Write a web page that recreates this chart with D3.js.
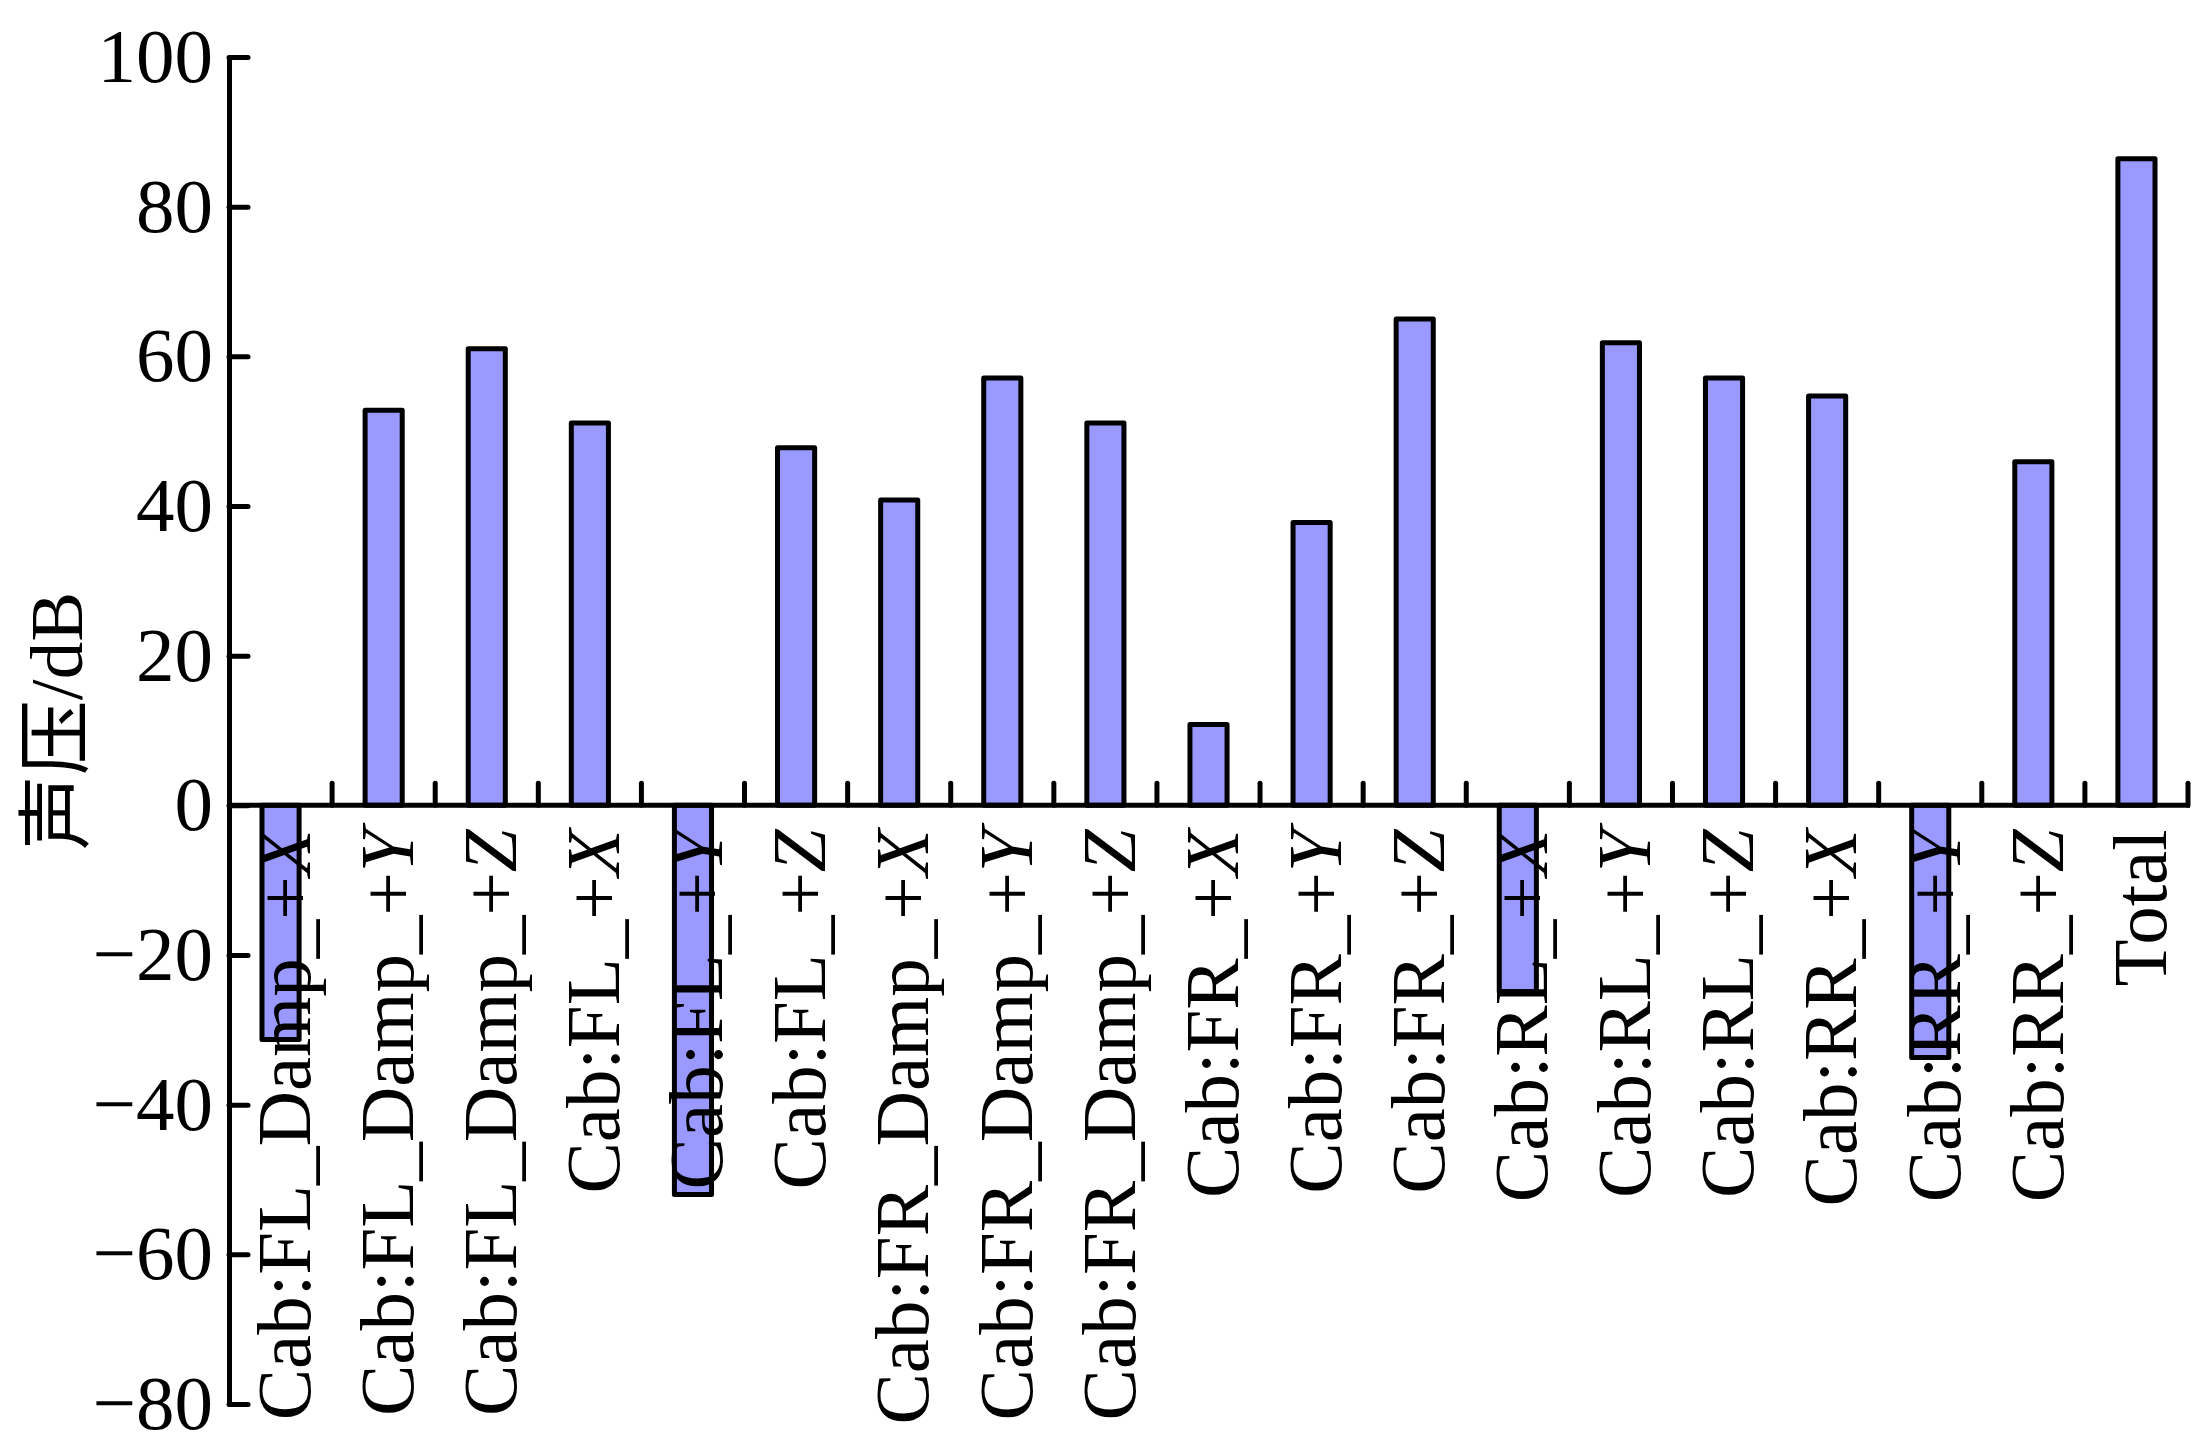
<!DOCTYPE html>
<html>
<head>
<meta charset="utf-8">
<script src="https://cdn.jsdelivr.net/npm/d3@7"></script>
<style>
  body { margin: 0; background: #fff; }
  text { font-family: "Liberation Serif", "Times New Roman", serif; fill: #000; }
</style>
</head>
<body>
<script>
// Data
var categories = [
    "Cab:FL_Damp_+X", "Cab:FL_Damp_+Y", "Cab:FL_Damp_+Z",
    "Cab:FL_+X", "Cab:FL_+Y", "Cab:FL_+Z",
    "Cab:FR_Damp_+X", "Cab:FR_Damp_+Y", "Cab:FR_Damp_+Z",
    "Cab:FR_+X", "Cab:FR_+Y", "Cab:FR_+Z",
    "Cab:RL_+X", "Cab:RL_+Y", "Cab:RL_+Z",
    "Cab:RR_+X", "Cab:RR_+Y", "Cab:RR_+Z",
    "Total"
];
var values = [-31.3, 52.8, 61.0, 51.1, -52.0, 47.8, 40.8, 57.1, 51.1, 10.8, 37.8, 65.0, -24.9, 61.8, 57.1, 54.7, -33.7, 45.9, 86.4];
var yTicks = [-80, -60, -40, -20, 0, 20, 40, 60, 80, 100];
var yLabel = ["声压", "/dB"];

var width = 2195;
var height = 1445;

var svg = d3.select("body").append("svg")
    .attr("width", width)
    .attr("height", height);

// Scales
var x = d3.scaleBand()
    .domain(categories)
    .range([229, 2188])
    .padding(0);

var y = d3.scaleLinear()
    .domain([-80, 100])
    .range([1404, 57]);

var barW = x.bandwidth() * 0.36;

// Bars
svg.append("g")
    .selectAll("rect")
    .data(values)
    .enter().append("rect")
    .attr("x", function (d, i) { return x(categories[i]) + x.bandwidth() / 2 - barW / 2; })
    .attr("y", function (d) { return y(Math.max(0, d)); })
    .attr("width", barW)
    .attr("height", function (d) { return Math.abs(y(d) - y(0)); })
    .attr("fill", "#9999ff")
    .attr("stroke", "#000")
    .attr("stroke-width", 5)
    .attr("stroke-linejoin", "round");

// Y axis (ticks point inward)
var yAxis = d3.axisLeft(y)
    .tickValues(yTicks)
    .tickSizeInner(-19)
    .tickSizeOuter(0)
    .tickPadding(16)
    .tickFormat(function (d) { return d < 0 ? "\u2212" + Math.abs(d) : d; });

var gy = svg.append("g")
    .attr("transform", "translate(229,0)")
    .call(yAxis);
gy.select(".domain").attr("stroke", "#000").attr("stroke-width", 5);
gy.selectAll(".tick line").attr("stroke", "#000").attr("stroke-width", 5).attr("stroke-linecap", "round");
gy.selectAll(".tick text")
    .attr("font-family", "Liberation Serif, serif")
    .attr("font-size", "77px")
    .attr("fill", "#000");

// X axis line at zero
svg.append("line")
    .attr("x1", 229)
    .attr("x2", 2190)
    .attr("y1", y(0))
    .attr("y2", y(0))
    .attr("stroke", "#000")
    .attr("stroke-width", 5);

// Category boundary ticks, pointing up
svg.append("g")
    .selectAll("line")
    .data(categories)
    .enter().append("line")
    .attr("x1", function (d) { return x(d) + x.step(); })
    .attr("x2", function (d) { return x(d) + x.step(); })
    .attr("y1", y(0))
    .attr("y2", y(0) - 22)
    .attr("stroke", "#000")
    .attr("stroke-width", 5)
    .attr("stroke-linecap", "round");

// Category labels, rotated, ending just below the axis; X/Y/Z in italics
var labels = svg.append("g")
    .selectAll("text")
    .data(categories)
    .enter().append("text")
    .attr("transform", function (d) {
        return "translate(" + (x(d) + x.bandwidth() / 2) + "," + (y(0) + 24) + ") rotate(-90)";
    })
    .attr("text-anchor", "end")
    .attr("dy", "0.38em")
    .attr("font-size", "77px");

labels.each(function (d) {
    var t = d3.select(this);
    var m = d.match(/^(.*\+)([XYZ])$/);
    if (m) {
        t.append("tspan").text(m[1]);
        t.append("tspan").attr("font-style", "italic").text(m[2]);
    } else {
        t.text(d);
    }
});

// Y axis title
svg.append("text")
    .attr("transform", "translate(82,721) rotate(-90)")
    .attr("text-anchor", "middle")
    .attr("font-size", "75px")
    .selectAll("tspan")
    .data(yLabel)
    .enter().append("tspan")
    .attr("font-family", function (d, i) { return i === 0 ? "Noto Sans CJK SC" : "Liberation Serif"; })
    .text(function (d) { return d; });
</script>
</body>
</html>
